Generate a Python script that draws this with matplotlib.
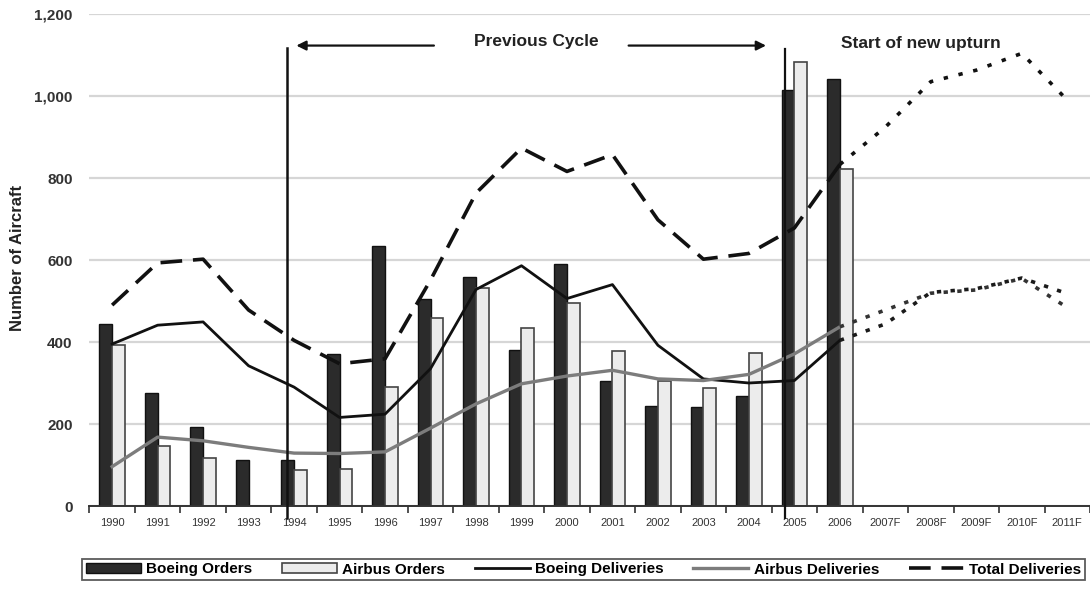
import numpy as np
import matplotlib
matplotlib.use('agg')
import matplotlib.pyplot as plt
from matplotlib.patches import Patch
from matplotlib.lines import Line2D

plt.rcParams['font.family'] = ['Liberation Sans', 'DejaVu Sans']

years = ['1990', '1991', '1992', '1993', '1994', '1995', '1996', '1997', '1998', '1999',
         '2000', '2001', '2002', '2003', '2004', '2005', '2006',
         '2007F', '2008F', '2009F', '2010F', '2011F']

# actuals 1990-2006
boeing_orders = [443, 275, 193, 112, 112, 370, 633, 506, 559, 380, 590, 306, 245, 242, 269, 1014, 1041]
airbus_orders = [393, 147, 116, 0, 87, 90, 290, 459, 531, 433, 496, 378, 304, 288, 374, 1082, 822]
boeing_deliv = [395, 441, 449, 342, 290, 216, 224, 335, 528, 586, 506, 540, 392, 310, 300, 306, 404]
airbus_deliv = [96, 168, 159, 143, 129, 128, 132, 190, 249, 298, 317, 331, 310, 306, 321, 371, 437]
total_deliv = [490, 593, 602, 478, 404, 347, 359, 551, 763, 873, 816, 857, 698, 602, 616, 678, 833]

# forecast 2006-2011F
boeing_fc = [404, 444, 521, 530, 556, 518]
airbus_fc = [437, 478, 519, 527, 555, 484]
total_fc = [833, 924, 1035, 1063, 1104, 990]

W, H = 1090, 589
fig = plt.figure(figsize=(W / 100, H / 100), dpi=100)
ax = fig.add_axes([89.4 / W, 83 / H, 1 - 89.4 / W, 492 / H])

x = np.arange(len(years))
xa = x[:len(boeing_orders)]
xf = x[len(boeing_orders) - 1:]
bw = 0.28

ax.bar(xa - bw / 2, boeing_orders, bw, color='#2b2b2b', edgecolor='#111111', lw=1.0, zorder=2)
ax.bar(xa + bw / 2, airbus_orders, bw, color='#ececec', edgecolor='#444444', lw=1.2, zorder=2)

ax.plot(xa, boeing_deliv, color='#111111', lw=2.0, zorder=4)
ax.plot(xa, airbus_deliv, color='#7c7c7c', lw=2.4, zorder=4)
ax.plot(xa, total_deliv, color='#111111', lw=2.6, dashes=(6, 3), zorder=5)

ax.plot(xf, boeing_fc, color='#1a1a1a', lw=2.6, dashes=(1.2, 2.6), zorder=4)
ax.plot(xf, airbus_fc, color='#333333', lw=2.6, dashes=(1.2, 2.6), zorder=4)
ax.plot(xf, total_fc, color='#111111', lw=2.6, dashes=(1.2, 3.0), zorder=5)

# cycle markers
ax.plot([3.853, 3.853], [-29, 1118], color='#111111', lw=1.8, clip_on=False, zorder=6)
ax.plot([14.798, 14.798], [-29, 1114], color='#111111', lw=1.6, clip_on=False, zorder=6)
arr = dict(arrowstyle='-|>', color='#111111', lw=1.6, mutation_scale=14, shrinkA=0, shrinkB=0)
ax.annotate('', xy=(4.05, 1123), xytext=(7.075, 1123), arrowprops=arr)
ax.annotate('', xy=(14.377, 1123), xytext=(11.356, 1123), arrowprops=arr)
ax.text(9.33, 1132, 'Previous Cycle', ha='center', va='center', fontsize=12.5,
        fontweight='bold', color='#222222')
ax.text(16.02, 1127, 'Start of new upturn', ha='left', va='center', fontsize=12.5,
        fontweight='bold', color='#222222')

ax.set_xlim(-0.5, -0.5 + (W - 89.4) / 45.85)
ax.set_ylim(0, 1200)
ax.set_yticks(np.arange(0, 1201, 200))
ax.set_yticklabels(['{:,}'.format(v) for v in range(0, 1201, 200)], fontsize=11,
                   fontweight='bold', color='#333333')
ax.tick_params(axis='y', length=0, pad=12)
ax.set_xticks(x)
ax.set_xticklabels(years, fontsize=8, color='#333333')
ax.set_xticks(np.arange(-0.5, len(years), 1), minor=True)
ax.tick_params(axis='x', which='major', length=0, pad=9)
ax.tick_params(axis='x', which='minor', length=5, width=1.2, color='#333333')
ax.grid(axis='y', color='#d6d6d6', lw=1.6, zorder=0)
ax.set_axisbelow(True)
for s in ['top', 'right', 'left']:
    ax.spines[s].set_visible(False)
ax.spines['bottom'].set_color('#333333')
ax.spines['bottom'].set_linewidth(1.4)

fig.text(18 / W, 1 - 258 / H, 'Number of Aircraft', rotation=90, ha='center', va='center',
         fontsize=12, fontweight='bold', color='#222222')

handles = [
    Patch(facecolor='#2b2b2b', edgecolor='#111111', lw=1.0),
    Patch(facecolor='#ececec', edgecolor='#444444', lw=1.2),
    Line2D([], [], color='#111111', lw=2.0),
    Line2D([], [], color='#7c7c7c', lw=2.4),
    Line2D([], [], color='#111111', lw=2.6, dashes=(6, 3)),
]
labels = ['Boeing Orders', 'Airbus Orders', 'Boeing Deliveries', 'Airbus Deliveries', 'Total Deliveries']
leg = fig.legend(handles, labels, loc='center', bbox_to_anchor=(82 / W, 6 / H, 1003 / W, 27 / H),
                 mode='expand', ncol=5, frameon=True, fancybox=False, borderaxespad=0,
                 handlelength=3.6, handletextpad=0.35, borderpad=0.25, handleheight=0.55,
                 prop={'weight': 'bold', 'size': 11})
leg.get_frame().set_edgecolor('#333333')
leg.get_frame().set_linewidth(1.3)

fig.savefig('out.png', dpi=100)
